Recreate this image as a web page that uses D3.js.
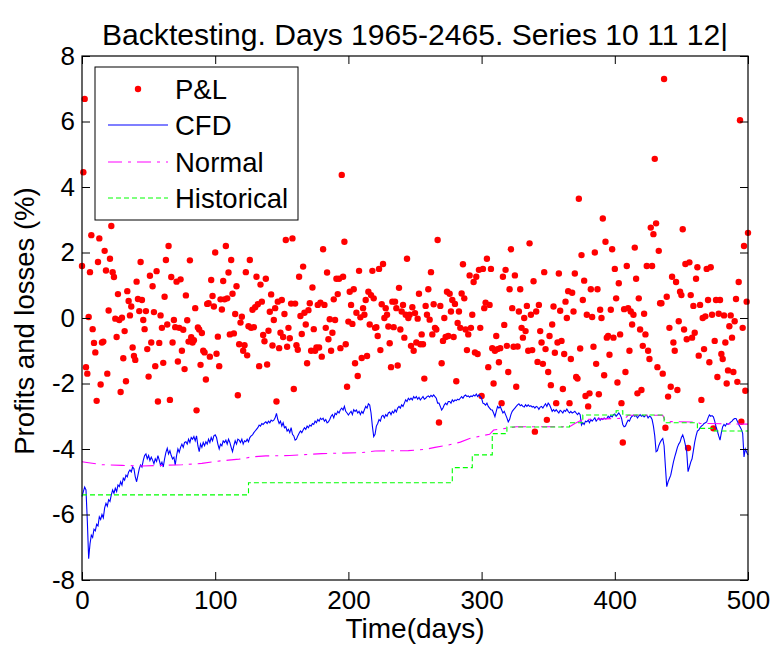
<!DOCTYPE html>
<html><head><meta charset="utf-8">
<script src="https://cdn.jsdelivr.net/npm/d3@7"></script>
<style>body{margin:0;background:#fff;} svg{display:block;}</style>
</head><body>
<svg id="chart" width="774" height="650"></svg>
<script>
const titleText = "Backtesting. Days 1965-2465. Series 10 11 12|";
const xLabel = "Time(days)";
const yLabel = "Profits and losses (%)";
const xTicks = [0, 100, 200, 300, 400, 500];
const yTicks = [-8, -6, -4, -2, 0, 2, 4, 6, 8];
const legendLabels = ["P&L", "CFD", "Normal", "Historical"];

// daily P&L (%), day 0..500
const pnl = [
 1.59, 4.45, 6.69,-1.50,-1.70, 0.03, 1.40, 2.53,-0.34,-0.76,
-1.05,-2.53, 1.71, 2.43,-2.03,-0.75,-0.72, 2.05, 1.45,-1.70,
 0.23, 1.81, 2.81, 1.40, 1.25,-0.02,-0.58, 0.73,-0.06,-2.26,
 0.01,-1.23,-0.40,-1.93, 0.82, 0.52, 0.08, 0.35,-0.90,-1.16,
-1.28, 1.11, 0.58, 0.21, 1.71, 0.55,-0.06,-0.34, 0.21,-0.95,
-1.79, 1.29,-0.75, 0.97, 0.18,-1.47, 1.43,-2.55,-0.76, 0.08,
-0.30,-1.37, 0.65, 1.77,-0.20, 2.20,-2.50, 1.25,-0.75,-0.06,
-0.28, 1.11,-1.33,-0.30, 1.18,-1.00,-0.36,-1.56, 0.69,-0.07,
-0.72, 1.76,-0.59,-0.75,-0.68, 0.30,-2.82,-0.29,-0.35,-1.43,
-0.46,-1.00,-1.05,-1.88, 0.43, 0.45,-1.18, 1.16, 0.67, 0.35,
 2.00,-1.09,-0.57,-1.47, 0.57, 0.26, 1.13, 0.57, 2.20, 0.60,
 1.39,-0.50, 1.77, 0.74,-0.47, 0.12, 0.97,-2.36,-0.80,-0.14,
 0.04,-1.00,-0.83, 1.40,-1.14,-0.25, 1.77,-0.30, 0.25,-0.28,
 0.33, 1.26, 0.42,-1.47, 1.02, 0.50,-0.52,-0.71, 1.20,-1.42,
-0.39, 0.19, 0.72,-0.84,-0.06, 0.30,-2.55, 0.50,-0.92,-0.45,
 0.55,-0.58, 0.12, 2.38,-0.88,-0.30,-0.62, 0.44, 2.43,-2.17,
 0.44,-0.83,-0.97, 1.26, 0.06,-0.49, 1.57, 0.16,-0.20,-1.38,
 0.24, 0.45,-1.00, 0.93,-0.34,-1.00,-0.90, 0.40,-0.90, 0.47,
-1.18, 2.10, 0.40,-0.30, 1.39,-0.65,-0.04,-1.00,-0.45, 0.57,
-0.06, 1.20, 0.73, 1.20,-0.92, 4.37, 1.26, 2.33,-0.80,-2.10,
-0.11, 0.80, 0.40,-0.18, 0.88,-1.38, 0.16,-1.77, 1.44, 0.02,
-1.22, 0.30, 0.10, 0.55,-1.16, 0.80,-0.20, 0.70, 1.44, 0.60,
-0.30,-0.28,-0.55, 1.50,-0.98, 0.42, 1.65, 0.00, 0.30, 0.10,
-0.26,-0.77,-1.50, 0.50,-0.28, 0.50, 0.30,-1.45, 0.92,-0.35,
 0.20, 0.40,-0.60, 0.10, 1.81, 0.00, 0.10,-0.85, 0.33,-1.00,
 0.15,-0.75,-0.02, 0.74,-0.80,-0.50,-0.80,-1.85, 0.37, 0.10,
 0.88,-0.05, 1.40,-0.50, 0.42,-0.30,-0.35, 2.38,-3.19, 0.37,
-1.38,-0.70, 0.00,-0.58, 0.80,-0.55, 0.74, 0.20, 0.55,-0.58,
 0.43,-1.93,-0.15, 0.20,-0.30, 0.75, 1.64, 0.60,-0.35,-0.98,
-0.50, 1.30,-0.30, 0.10, 1.10,-1.05, 1.26,-1.10, 1.47,-0.30,
-2.38, 1.50, 0.30, 0.47, 1.81,-1.50, 0.40, 1.50,-0.92,-2.00,
-1.00,-0.55,-0.95,-1.35,-0.92,-2.60, 1.26,-0.21, 1.47,-0.85,
-1.65, 0.88, 2.10, 0.30,-0.88, 1.30,-2.10,-0.87, 0.20, 0.88,
-0.30,-0.60, 0.00,-0.40, 0.37,-1.00, 2.28, 0.10,-0.98, 1.12,
-3.47, 0.20,-1.34, 0.40,-0.40,-0.75,-1.40, 1.40,-0.95,-3.11,
-1.65,-0.55,-2.05,-0.20, 0.35,-1.06,-2.60,-0.75, 1.36, 0.22,
-0.70,-2.17,-1.10, 0.50, 0.00, 0.82,-2.60,-1.25, 0.77, 0.20,
 1.36,-1.80,-1.85, 3.64,-0.93, 1.92, 0.55, 1.14,-2.38, 0.10,
-2.70,-2.30, 0.88, 0.03,-0.88, 2.00,-1.40, 0.88,-2.33, 0.25,
 0.00, 3.04,-1.75, 2.33,-0.60,-0.55,-1.12, 0.25, 2.10,-0.60,
 1.50, 0.60,-1.97, 1.06,-0.50,-2.60,-3.80, 0.27,-1.65, 1.59,
 0.30,-1.00, 0.20,-0.20, 0.10, 2.15, 1.20,-2.30, 0.60,-0.35,
-2.20,-0.85, 0.13,-0.50, 1.59,-1.00,-1.25, 2.76, 1.59, 2.56,
 4.86, 2.89,-1.50, 2.05, 0.45, 0.45,-1.70, 7.30,-3.35, 0.65,
-2.40,-0.30,-2.10, 1.26,-0.75,-1.00, 1.10,-2.20,-0.10, 0.80,
 0.70, 2.71,-0.35, 1.65,-0.65,-3.97, 1.70, 0.70,-0.60, 0.37,
-0.45, 1.20, 1.55,-1.15, 0.40,-2.50, 0.00,-0.95, 0.05, 1.50,
 0.55,-1.35, 1.55, 0.10,-3.37,-0.70, 0.55,-1.80, 0.13, 0.55,
-1.10,-1.25, 0.08,-0.75,-2.00,-1.60,-0.25, 0.08,-0.60,-1.65,
-0.10, 0.58,-1.95, 1.10, 6.04,-3.17,-0.30, 2.20,-2.22, 0.50,
 2.60];

// CFD VaR (%), day 0..500
const cfd = [
-5.45,-5.30,-5.16,-5.25,-6.20,-7.35,-6.90,-6.63,-6.70,-6.45,
-6.50,-6.30,-6.35,-6.07,-6.15,-6.00,-6.10,-5.80,-5.66,-5.75,
-5.55,-5.60,-5.40,-5.25,-5.35,-5.20,-5.30,-5.10,-5.15,-5.00,
-5.10,-4.89,-4.95,-4.80,-4.85,-4.70,-4.64,-4.70,-4.55,-4.60,
-4.85,-5.00,-4.80,-4.60,-4.49,-4.55,-4.35,-4.20,-4.15,-4.30,
-4.20,-4.35,-4.25,-4.34,-4.45,-4.30,-4.38,-4.20,-4.34,-4.50,
-4.40,-4.55,-4.30,-4.10,-3.98,-4.15,-4.05,-4.20,-4.30,-4.25,
-4.49,-4.20,-4.00,-4.10,-3.95,-3.85,-3.95,-3.80,-3.78,-3.85,
-3.70,-3.80,-3.65,-3.70,-3.62,-3.75,-3.60,-3.90,-4.08,-3.85,
-3.95,-3.80,-3.90,-3.78,-3.85,-3.70,-3.80,-3.65,-3.75,-3.60,
-3.57,-3.65,-3.85,-4.00,-3.85,-3.90,-3.75,-3.80,-3.73,-3.85,
-3.70,-3.80,-3.95,-4.08,-3.90,-3.75,-3.85,-3.70,-3.73,-3.80,
-3.70,-3.85,-3.75,-3.78,-3.70,-3.78,-3.65,-3.60,-3.57,-3.50,
-3.45,-3.40,-3.35,-3.27,-3.30,-3.22,-3.25,-3.20,-3.17,-3.22,
-3.15,-3.20,-3.12,-3.15,-3.12,-3.05,-2.91,-3.10,-3.22,-3.15,
-3.30,-3.20,-3.35,-3.32,-3.45,-3.40,-3.50,-3.35,-3.55,-3.60,
-3.73,-3.70,-3.60,-3.52,-3.45,-3.50,-3.42,-3.35,-3.40,-3.30,
-3.35,-3.27,-3.30,-3.22,-3.25,-3.15,-3.20,-3.10,-3.15,-3.06,
-3.10,-3.06,-3.15,-3.10,-3.20,-3.17,-3.10,-3.00,-2.95,-3.05,
-2.91,-2.95,-2.85,-2.90,-2.80,-2.75,-2.81,-2.70,-2.85,-2.90,
-2.96,-2.90,-2.85,-2.95,-2.80,-2.85,-2.81,-2.90,-2.85,-2.95,
-2.85,-2.91,-2.80,-2.70,-2.75,-2.62,-2.66,-2.90,-3.30,-3.62,
-3.55,-3.30,-3.22,-3.10,-3.15,-3.00,-2.97,-3.05,-2.95,-3.00,
-2.90,-2.87,-2.95,-2.85,-2.90,-2.80,-2.87,-2.75,-2.70,-2.75,
-2.65,-2.70,-2.60,-2.50,-2.55,-2.45,-2.50,-2.45,-2.50,-2.40,
-2.45,-2.40,-2.48,-2.42,-2.50,-2.45,-2.40,-2.48,-2.45,-2.40,
-2.38,-2.42,-2.36,-2.40,-2.35,-2.40,-2.45,-2.60,-2.60,-2.70,
-2.81,-2.75,-2.65,-2.60,-2.65,-2.55,-2.55,-2.60,-2.50,-2.55,
-2.50,-2.52,-2.48,-2.50,-2.45,-2.40,-2.45,-2.38,-2.35,-2.40,
-2.38,-2.42,-2.38,-2.40,-2.35,-2.38,-2.32,-2.40,-2.35,-2.40,
-2.45,-2.60,-2.62,-2.66,-2.60,-2.70,-2.75,-2.80,-2.81,-2.90,
-3.01,-2.85,-2.70,-2.75,-2.70,-2.80,-2.90,-2.85,-2.95,-3.05,
-3.17,-3.10,-2.95,-2.85,-2.80,-2.75,-2.70,-2.65,-2.62,-2.68,
-2.65,-2.70,-2.72,-2.65,-2.70,-2.65,-2.70,-2.68,-2.72,-2.70,
-2.75,-2.70,-2.72,-2.79,-2.72,-2.70,-2.75,-2.68,-2.62,-2.70,
-2.60,-2.65,-2.75,-2.85,-2.80,-2.85,-2.80,-2.85,-2.90,-2.82,
-2.85,-2.90,-2.82,-2.85,-2.78,-2.85,-2.90,-2.85,-2.90,-2.88,
-2.85,-2.90,-2.95,-2.90,-2.95,-3.27,-3.20,-3.25,-3.15,-3.17,
-3.12,-3.20,-3.10,-3.15,-3.10,-3.05,-3.15,-3.10,-3.05,-3.12,
-3.07,-3.10,-3.05,-3.08,-3.07,-3.00,-3.05,-2.98,-3.02,-2.95,
-2.93,-3.00,-2.95,-2.90,-2.96,-3.05,-3.25,-3.32,-3.30,-3.20,
-3.12,-3.15,-3.05,-3.00,-2.97,-3.00,-2.97,-3.05,-3.00,-2.95,
-3.00,-2.97,-3.02,-2.98,-2.97,-3.05,-3.00,-3.02,-3.10,-3.30,
-3.60,-4.08,-4.05,-3.90,-3.80,-3.73,-3.68,-3.90,-4.54,-5.15,
-5.00,-4.90,-4.80,-4.60,-4.40,-4.24,-4.10,-3.95,-3.85,-3.79,
-3.65,-3.57,-3.70,-3.88,-4.08,-4.69,-4.55,-4.40,-4.30,-4.05,
-3.79,-3.60,-3.45,-3.42,-3.35,-3.30,-3.27,-3.22,-3.20,-3.17,
-3.05,-2.96,-3.00,-2.98,-3.02,-3.15,-3.32,-3.45,-3.60,-3.73,
-3.50,-3.32,-3.25,-3.30,-3.22,-3.25,-3.22,-3.18,-3.15,-3.10,
-3.07,-3.07,-3.15,-3.25,-3.32,-3.40,-3.52,-4.24,-4.00,-4.10,
-4.18];

// Normal VaR (%)
const normalDays = [0, 5, 15, 30, 45, 60, 75, 90, 100, 110, 118, 128, 138, 156, 180, 210, 220, 245, 258, 265, 275, 284, 291, 300, 306, 309, 318, 326, 366, 370, 376, 408, 410, 436, 438, 462, 464, 500];
const normalVals = [-4.39,-4.42,-4.48,-4.50,-4.52,-4.50,-4.48,-4.44,-4.38,-4.34,-4.31,-4.24,-4.21,-4.20,-4.14,-4.11,-4.06,-4.05,-4.01,-3.95,-3.88,-3.79,-3.68,-3.60,-3.55,-3.42,-3.37,-3.32,-3.32,-3.22,-3.10,-3.06,-2.97,-2.97,-3.16,-3.18,-3.22,-3.24];

// Historical VaR (%), step changes
const histDays = [0, 125, 278, 293, 308, 319, 366, 376, 401, 406, 437, 462, 475, 500];
const histVals = [-5.40,-5.03,-4.57,-4.18,-3.53,-3.33,-3.20,-2.96,-2.83,-2.96,-3.20,-3.37,-3.45,-3.45];

const font = "'Liberation Sans', Arial, Helvetica, sans-serif";
const m = {left: 82, right: 748, top: 56, bottom: 580};
const svg = d3.select("#chart");
svg.append("rect").attr("width", 774).attr("height", 650).attr("fill", "#fff");

const x = d3.scaleLinear().domain([0, 500]).range([m.left, m.right]);
const y = d3.scaleLinear().domain([-8, 8]).range([m.bottom, m.top]);

// scatter
svg.append("g").selectAll("circle")
  .data(pnl.map((v, i) => ({d: i, v})))
  .join("circle")
  .attr("cx", p => x(p.d)).attr("cy", p => y(p.v))
  .attr("r", 3.2).attr("fill", "#ff0000");

// CFD line
svg.append("path")
  .attr("d", d3.line().x((v, i) => x(i)).y(v => y(v))(cfd))
  .attr("fill", "none").attr("stroke", "#0000ff").attr("stroke-width", 1.1);

// Normal line
svg.append("path")
  .attr("d", d3.line().x(d => x(d[0])).y(d => y(d[1]))(normalDays.map((d, i) => [d, normalVals[i]])))
  .attr("fill", "none").attr("stroke", "#ff00ff").attr("stroke-width", 1.1)
  .attr("stroke-dasharray", "14,6,3,6");

// Historical line
svg.append("path")
  .attr("d", d3.line().curve(d3.curveStepAfter).x(d => x(d[0])).y(d => y(d[1]))(histDays.map((d, i) => [d, histVals[i]])))
  .attr("fill", "none").attr("stroke", "#00ff00").attr("stroke-width", 1.1)
  .attr("stroke-dasharray", "5,3");

// axes
function styleAxis(g) {
  g.select(".domain").remove();
  g.selectAll(".tick line").attr("stroke", "#000").attr("stroke-width", 1);
  g.selectAll("text").attr("fill", "#000");
  g.attr("font-size", 26).attr("font-family", font);
}
svg.append("g").attr("transform", `translate(0,${m.bottom})`)
  .call(d3.axisBottom(x).tickValues(xTicks).tickSize(-8).tickSizeOuter(0).tickPadding(11).tickFormat(d => String(d)))
  .call(styleAxis);
svg.append("g").attr("transform", `translate(0,${m.top})`)
  .call(d3.axisTop(x).tickValues(xTicks).tickSize(-8).tickSizeOuter(0).tickFormat(""))
  .call(styleAxis);
svg.append("g").attr("transform", `translate(${m.left},0)`)
  .call(d3.axisLeft(y).tickValues(yTicks).tickSize(-8).tickSizeOuter(0).tickPadding(7).tickFormat(d => String(d)))
  .call(styleAxis);
svg.append("g").attr("transform", `translate(${m.right},0)`)
  .call(d3.axisRight(y).tickValues(yTicks).tickSize(-8).tickSizeOuter(0).tickFormat(""))
  .call(styleAxis);

svg.append("rect")
  .attr("x", m.left).attr("y", m.top)
  .attr("width", m.right - m.left).attr("height", m.bottom - m.top)
  .attr("fill", "none").attr("stroke", "#000").attr("stroke-width", 1.2);

// title & labels
svg.append("text").attr("x", 415).attr("y", 45)
  .attr("text-anchor", "middle").attr("font-family", font).attr("font-size", 30)
  .attr("textLength", 626).attr("lengthAdjust", "spacingAndGlyphs")
  .text(titleText);
svg.append("text").attr("x", 415).attr("y", 638)
  .attr("text-anchor", "middle").attr("font-family", font).attr("font-size", 28)
  .text(xLabel);
svg.append("text").attr("transform", "translate(34,321) rotate(-90)")
  .attr("text-anchor", "middle").attr("font-family", font).attr("font-size", 27.5)
  .text(yLabel);

// legend
const lg = svg.append("g");
lg.append("rect").attr("x", 95).attr("y", 67).attr("width", 203).attr("height", 153)
  .attr("fill", "#fff").attr("stroke", "#000").attr("stroke-width", 1);
const rowY = [89, 125, 162, 198];
const styles = [
  {type: "dot", color: "#ff0000"},
  {type: "line", color: "#0000ff", dash: null},
  {type: "line", color: "#ff00ff", dash: "14,6,3,6"},
  {type: "line", color: "#00ff00", dash: "5,3"}
];
legendLabels.forEach((lab, i) => {
  const s = styles[i];
  if (s.type === "dot") {
    lg.append("circle").attr("cx", 138).attr("cy", rowY[i]).attr("r", 3.2).attr("fill", s.color);
  } else {
    const l = lg.append("line").attr("x1", 108).attr("x2", 168).attr("y1", rowY[i]).attr("y2", rowY[i])
      .attr("stroke", s.color).attr("stroke-width", 1.1);
    if (s.dash) l.attr("stroke-dasharray", s.dash);
  }
  lg.append("text").attr("x", 175).attr("y", rowY[i] + 10)
    .attr("font-family", font).attr("font-size", 27.5).text(lab);
});
</script>
</body></html>
